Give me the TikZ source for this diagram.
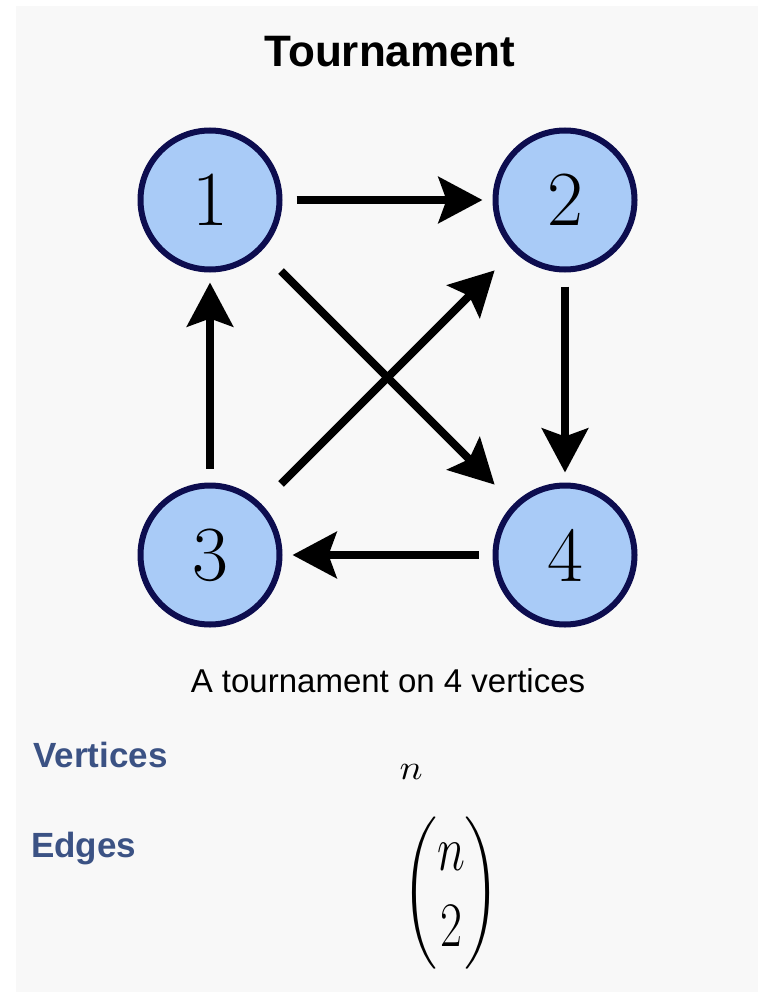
\documentclass[tikz,border=0pt]{standalone}
\usepackage{amsmath}
\usepackage{fontspec}
\usetikzlibrary{arrows.meta}
\newfontfamily\arialf{Liberation Sans}
\definecolor{bggray}{HTML}{F8F8F8}
\definecolor{nodefill}{HTML}{A9CBF7}
\definecolor{nodeborder}{HTML}{0D0D4F}
\definecolor{labelblue}{HTML}{3B5284}
\begin{document}
\begin{tikzpicture}[x=1pt,y=-1pt,
  vertex/.style={circle, draw=nodeborder, fill=nodefill, line width=6pt,
    minimum size=139pt, inner sep=0pt, font=\fontsize{78}{78}\selectfont},
  arr/.style={line width=8pt, -{Stealth[length=44pt,width=46pt,inset=8pt]}},
  straightarr/.style={arr, shorten <=14pt, shorten >=10pt},
  diagarr/.style={arr, shorten <=28pt, shorten >=27pt},
  sidelabel/.style={anchor=base west, inner sep=0pt, text=labelblue,
    font=\arialf\bfseries\fontsize{35}{35}\selectfont}]
\useasboundingbox (0,0) rectangle (758,992);
\fill[white] (0,0) rectangle (758,992);
\fill[bggray] (16,6) rectangle (758,992);

\node[anchor=base, inner sep=0pt, font=\arialf\bfseries\fontsize{44}{44}\selectfont]
  (title) at (390,67) {Tournament};

\node[vertex] (n1) at (210,200) {1};
\node[vertex] (n2) at (565,200) {2};
\node[vertex] (n3) at (210,555) {3};
\node[vertex] (n4) at (565,555) {4};

\draw[straightarr] (n1) -- (n2);
\draw[straightarr] (n2) -- (n4);
\draw[straightarr] (n4) -- (n3);
\draw[straightarr] (n3) -- (n1);
\draw[diagarr] (n1) -- (n4);
\draw[diagarr] (n3) -- (n2);

\node[anchor=base, inner sep=0pt, font=\arialf\fontsize{33}{33}\selectfont]
  (caption) at (388,692) {A tournament on 4 vertices};

\node[sidelabel] (vlabel) at (33,767) {Vertices};
\node[sidelabel] (elabel) at (31,857) {Edges};

\node[inner sep=0pt] (vval) at (411,772) {\resizebox{23pt}{15pt}{$n$}};
\node[inner sep=0pt] (eval) at (451,893)
  {\resizebox*{98pt}{153pt}{\fontsize{24.88}{30}\selectfont$\left(\begin{matrix}n\\2\end{matrix}\right)$}};
\end{tikzpicture}
\end{document}
